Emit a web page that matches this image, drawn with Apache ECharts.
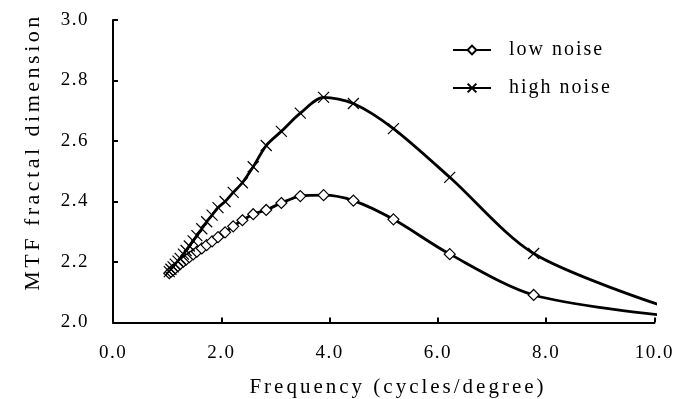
<!DOCTYPE html>
<html>
<head>
<meta charset="utf-8">
<script src="https://cdn.jsdelivr.net/npm/echarts@6/dist/echarts.min.js"></script>
<style>html,body{margin:0;padding:0;background:#fff}#c{width:674px;height:399px}</style>
</head>
<body>
<div id="c"></div>
<script>
// Frequency (cycles/degree) for each measured point
const freq = [1.04,1.07,1.11,1.15,1.20,1.24,1.30,1.35,1.41,1.48,1.55,1.64,1.73,1.83,1.94,2.07,2.22,2.39,2.59,2.83,3.11,3.46,3.89,4.44,5.18,6.22,7.77,10.1];
const lowNoise = [2.163,2.168,2.174,2.180,2.187,2.193,2.201,2.208,2.216,2.225,2.234,2.245,2.256,2.268,2.282,2.298,2.318,2.338,2.358,2.372,2.395,2.418,2.421,2.403,2.341,2.226,2.091,2.025];
const highNoise = [2.168,2.176,2.184,2.193,2.203,2.212,2.226,2.238,2.253,2.270,2.287,2.310,2.333,2.355,2.380,2.400,2.430,2.462,2.515,2.585,2.632,2.692,2.744,2.724,2.641,2.480,2.228,2.058];
// last point has no marker (line continues off to edge)
const markerless = [27];
const xTicks = ['0.0','2.0','4.0','6.0','8.0','10.0'];
const yTicks = ['2.0','2.2','2.4','2.6','2.8','3.0'];
const xTitle = 'Frequency (cycles/degree)';
const yTitle = 'MTF fractal dimension';

// widen glyph spacing like the scanned original (typewriter-like tracking)
(function(){
  const P = CanvasRenderingContext2D.prototype;
  const orig = P.fillText;
  P.fillText = function(t, x, y, m){
    const mm = /(\d+(?:\.\d+)?)px/.exec(this.font || '');
    const fs = mm ? parseFloat(mm[1]) : 12;
    if ('letterSpacing' in this) {
      this.letterSpacing = fs >= 22 ? '3.5px' : fs >= 21 ? '3px' : fs >= 20 ? '2px' : '1.5px';
    }
    return m === undefined ? orig.call(this, t, x, y) : orig.call(this, t, x, y, m);
  };
})();

function toData(ys){
  return freq.map((x,i)=> markerless.includes(i) ? {value:[x,ys[i]], symbol:'none'} : [x,ys[i]]);
}
const serif = '"Liberation Serif","Times New Roman",serif';
const chart = echarts.init(document.getElementById('c'), null, {renderer:'canvas'});
chart.setOption({
  animation:false,
  backgroundColor:'#fff',
  grid:{left:113,right:17,top:20,bottom:76.5},
  legend:{
    left:452, top:40, padding:0, orient:'vertical', itemGap:18, itemWidth:38, itemHeight:11,
    textStyle:{fontFamily:serif,fontSize:20,color:'#000',padding:[0,0,0,13]},
    data:['low noise','high noise']
  },
  graphic:[
    {type:'text', x:398, y:387, silent:true,
     style:{text:xTitle, fontFamily:serif, fontSize:21, fill:'#000', align:'center', verticalAlign:'middle'}},
    {type:'text', x:33, y:152, rotation:Math.PI/2, silent:true,
     style:{text:yTitle, fontFamily:serif, fontSize:22, fill:'#000', align:'center', verticalAlign:'middle'}}
  ],
  xAxis:{
    type:'value', min:0, max:10, interval:2,
    axisLine:{show:true,lineStyle:{color:'#000',width:2}},
    axisTick:{show:true,inside:true,length:5,lineStyle:{color:'#000',width:2}},
    axisLabel:{margin:21,fontFamily:serif,fontSize:19,color:'#000',formatter:(v)=>xTicks[Math.round(v/2)]},
    splitLine:{show:false}
  },
  yAxis:{
    type:'value', min:2, max:3, interval:0.2,
    axisLine:{show:true,lineStyle:{color:'#000',width:2}},
    axisTick:{show:true,inside:true,length:5,lineStyle:{color:'#000',width:2}},
    axisLabel:{margin:24,fontFamily:serif,fontSize:19,color:'#000',formatter:(v)=>yTicks[Math.round((v-2)/0.2)]},
    splitLine:{show:false}
  },
  series:[
    {
      name:'low noise', type:'line', smooth:0.3, clip:false,
      data:toData(lowNoise),
      symbol:'diamond', symbolSize:[11,11],
      lineStyle:{color:'#000',width:2.8},
      itemStyle:{color:'#fff',borderColor:'#000',borderWidth:1.2},
      z:3
    },
    {
      name:'high noise', type:'line', smooth:0.3, clip:false,
      data:toData(highNoise),
      symbol:'path://M0,0L10,10M10,0L0,10', symbolSize:[11,11],
      lineStyle:{color:'#000',width:2.8},
      itemStyle:{color:'#000',borderColor:'#000',borderWidth:1.2},
      z:3
    }
  ]
});
</script>
</body>
</html>
